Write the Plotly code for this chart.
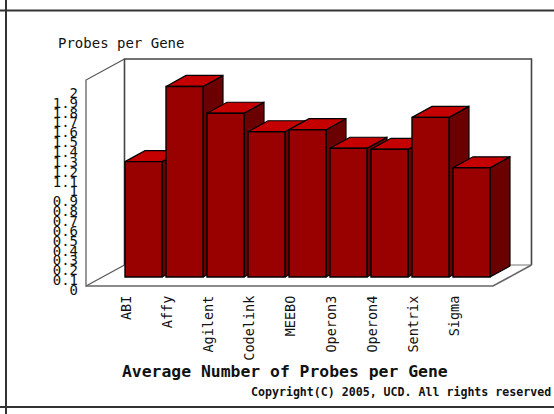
import plotly.graph_objects as go

categories = ["ABI", "Affy", "Agilent", "Codelink", "MEEBO", "Operon3", "Operon4", "Sentrix", "Sigma"]
values = [1.12, 1.85, 1.59, 1.41, 1.43, 1.25, 1.24, 1.55, 1.06]
tick_vals = [i / 10 for i in range(21)]
tick_text = ["0", "0.1", "0.2", "0.3", "0.4", "0.5", "0.6", "0.7", "0.8", "0.9", "1",
             "1.1", "1.2", "1.3", "1.4", "1.5", "1.6", "1.7", "1.8", "1.9", "2"]

W, H = 554, 414
PX_X, PX_Y = 41.0, 103.0          # pixels per category / per unit
X_ORIGIN, Y_ORIGIN = 143.5, 277.0  # pixel of first category / of value 0
xr = [-X_ORIGIN / PX_X, (W - X_ORIGIN) / PX_X]
yr = [(Y_ORIGIN - H) / PX_Y, Y_ORIGIN / PX_Y]

HALF = 18.5 / PX_X
DX, DY = 20 / PX_X, 11 / PX_Y

FRONT, TOP, SIDE = "#990000", "#c40000", "#6a0000"
MONO = "DejaVu Sans Mono"

fig = go.Figure()

# room walls
WL, WR = (86 - X_ORIGIN) / PX_X, (493 - X_ORIGIN) / PX_X
FL, WT = (Y_ORIGIN - 286) / PX_Y, (Y_ORIGIN - 80) / PX_Y
RDX, RDY = 38.5 / PX_X, 21 / PX_Y


def line(xs, ys, color, width):
    fig.add_trace(go.Scatter(x=xs, y=ys, mode="lines", line=dict(color=color, width=width),
                             hoverinfo="skip", showlegend=False))


line([WL + RDX, WL + RDX, WR + RDX, WR + RDX],
     [FL + RDY, WT + RDY, WT + RDY, FL + RDY], "#444444", 1.6)
line([WL + RDX, WR + RDX], [FL + RDY, FL + RDY], "#777777", 1.2)
line([WL + RDX, WL, WL, WL + RDX], [WT + RDY, WT, FL, FL + RDY], "#555555", 1.2)
line([WL, WR, WR + RDX], [FL, FL, FL + RDY], "#666666", 1.6)

# side and top faces, painted left to right
for i, v in enumerate(values):
    l, r = i - HALF, i + HALF
    fig.add_trace(go.Scatter(x=[r, r + DX, r + DX, r, r], y=[0, DY, v + DY, v, 0], mode="lines",
                             fill="toself", fillcolor=SIDE, line=dict(color="black", width=1.2),
                             hoverinfo="skip", showlegend=False))
    fig.add_trace(go.Scatter(x=[l, l + DX, r + DX, r, l], y=[v, v + DY, v + DY, v, v], mode="lines",
                             fill="toself", fillcolor=TOP, line=dict(color="black", width=1.2),
                             hoverinfo="skip", showlegend=False))

# front faces on an overlaying subplot
fig.add_trace(go.Bar(x=list(range(len(values))), y=values, width=2 * HALF, xaxis="x2", yaxis="y2",
                     marker=dict(color=FRONT, line=dict(color="black", width=1.4)), showlegend=False))

# carrier for the printed value scale
fig.add_trace(go.Scatter(x=[0] * len(tick_vals), y=tick_vals, xaxis="x2", yaxis="y3", mode="markers",
                         marker=dict(opacity=0), hoverinfo="skip", showlegend=False))

LABEL0_PX, LABEL2_PX = 290.0, 93.0
px_per = (LABEL0_PX - LABEL2_PX) / 2
y3r = [(LABEL0_PX - H) / px_per, LABEL0_PX / px_per]

hidden = dict(visible=False, showgrid=False, zeroline=False, fixedrange=True)
fig.update_layout(
    width=W, height=H, margin=dict(l=0, r=0, t=0, b=0), autosize=False,
    paper_bgcolor="white", plot_bgcolor="white", barmode="overlay", showlegend=False,
    font=dict(family=MONO, color="#222222"),
    xaxis=dict(range=xr, domain=[0, 1], **hidden),
    yaxis=dict(range=yr, domain=[0, 1], **hidden),
    xaxis2=dict(range=xr, domain=[0, 1], overlaying="x", anchor="free", position=(H - 292) / H,
                side="bottom", showline=False, showgrid=False, zeroline=False, ticks="",
                tickmode="array", tickvals=[i - 0.42 for i in range(len(categories))], ticktext=categories,
                tickangle=-90, tickfont=dict(family=MONO, size=13.5, color="#111111")),
    yaxis2=dict(range=yr, domain=[0, 1], overlaying="y", **hidden),
    yaxis3=dict(range=y3r, domain=[0, 1], overlaying="y", anchor="free", position=78 / W, side="left",
                showline=False, showgrid=False, zeroline=False, ticks="",
                tickmode="array", tickvals=tick_vals, ticktext=tick_text,
                tickfont=dict(family=MONO, size=14, color="#111111")),
    annotations=[
        dict(text="Probes per Gene", xref="paper", yref="paper", x=56 / W, y=1 - 43 / H, xanchor="left",
             yanchor="middle", showarrow=False, font=dict(family=MONO, size=14, color="#111111")),
        dict(text="<b>Average Number of Probes per Gene</b>", xref="paper", yref="paper", x=284.5 / W,
             y=1 - 371 / H, xanchor="center", yanchor="middle", showarrow=False,
             font=dict(family=MONO, size=16.4, color="#111111")),
        dict(text="<b>Copyright(C) 2005, UCD. All rights reserved</b>", xref="paper", yref="paper", x=553 / W,
             y=1 - 392 / H, xanchor="right", yanchor="middle", showarrow=False,
             font=dict(family=MONO, size=11.6, color="#111111")),
    ],
    shapes=[
        dict(type="line", xref="paper", yref="paper", x0=6 / W, x1=6 / W, y0=0, y1=1,
             line=dict(color="#333333", width=2)),
        dict(type="line", xref="paper", yref="paper", x0=0, x1=1, y0=1 - 10.5 / H, y1=1 - 10.5 / H,
             line=dict(color="#333333", width=2)),
        dict(type="line", xref="paper", yref="paper", x0=0, x1=1, y0=1 - 407 / H, y1=1 - 407 / H,
             line=dict(color="#333333", width=2)),
    ],
)
fig.write_html("out.html", config=dict(displayModeBar=False),
               post_script="document.body.style.margin='0';document.documentElement.style.overflow='hidden';")
